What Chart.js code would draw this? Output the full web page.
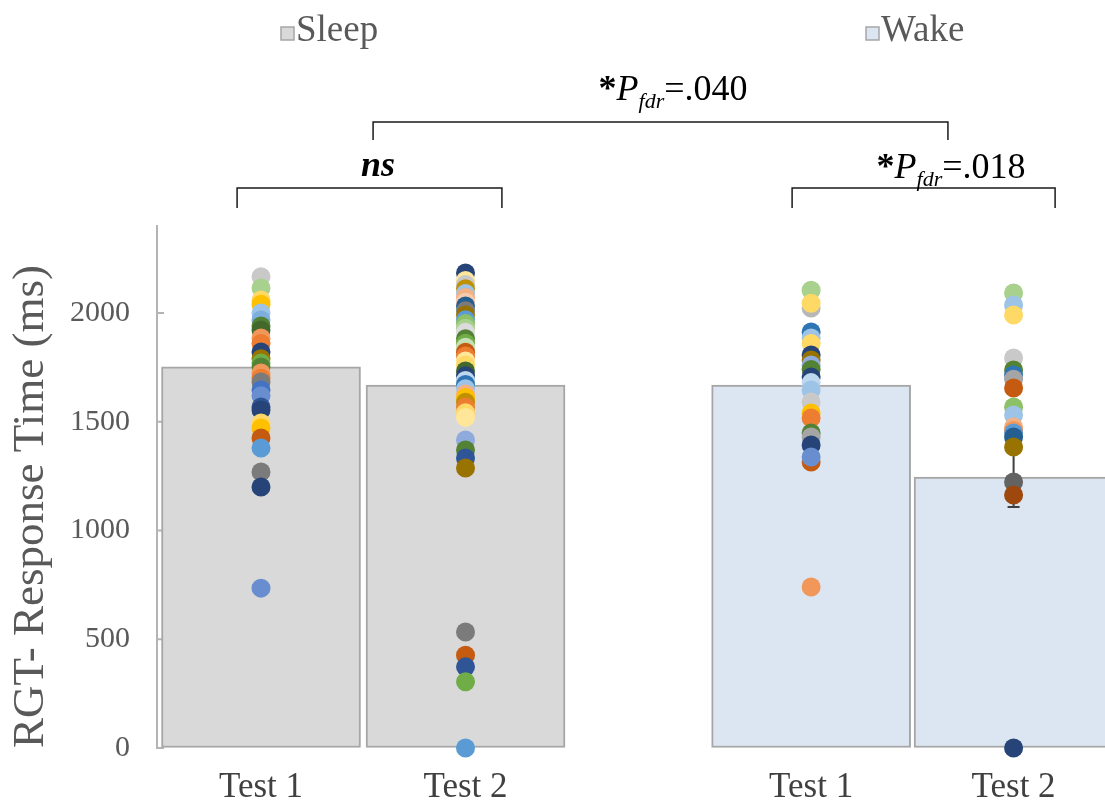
<!DOCTYPE html>
<html>
<head>
<meta charset="utf-8">
<script src="https://cdn.jsdelivr.net/npm/chart.js@4.4.1/dist/chart.umd.min.js"></script>
<style>
  html, body { margin: 0; padding: 0; background: #fff; }
  #wrap { width: 1105px; height: 806px; }
</style>
</head>
<body>
<div id="wrap"><canvas id="grafico" width="1105" height="806"></canvas></div>
<script>
// ---- Datos ----
var grupos = ['Sleep', 'Wake'];
var categorias = ['Test 1', 'Test 2', 'Test 1', 'Test 2'];
var medias = [1752, 1669, 1669, 1246];
var errores = [95, 120, 85, 138];
var ticksY = [0, 500, 1000, 1500, 2000];

var sleepTest1 = [2167, 2115, 2060, 2040, 2000, 1968, 1940, 1922, 1885, 1860, 1821, 1790, 1770, 1752, 1724, 1700, 1683, 1646, 1620, 1568, 1554, 1494, 1471, 1425, 1379, 1269, 1200, 735];
var sleepTest2 = [2184, 2150, 2131, 2112, 2090, 2071, 2049, 2032, 2010, 1991, 1969, 1952, 1930, 1911, 1882, 1861, 1843, 1820, 1802, 1779, 1761, 1733, 1712, 1690, 1671, 1652, 1628, 1611, 1590, 1568, 1541, 1520, 1416, 1370, 1333, 1287, 533, 427, 373, 305, 0];
var wakeTest1 = [2105, 2023, 2045, 1913, 1885, 1860, 1807, 1784, 1761, 1740, 1706, 1680, 1646, 1591, 1540, 1517, 1448, 1430, 1393, 1315, 1338, 740];
var wakeTest2 = [2092, 2037, 1991, 1793, 1738, 1715, 1695, 1655, 1568, 1531, 1476, 1460, 1448, 1430, 1384, 1223, 1163, 0];

// comparaciones: tramo en unidades del eje x, altura en ms, texto
var comparaciones = [
  { desde: 1.548, hasta: 4.359, alto: 2878, pata: 2795, centro: 3.015, base: 2979, valor: '=.040' },
  { desde: 0.883, hasta: 2.178, alto: 2575, pata: 2483, centro: 1.572, base: 2630, valor: null },
  { desde: 3.597, hasta: 4.883, alto: 2575, pata: 2483, centro: 4.374, base: 2621, valor: '=.018' }
];

// ---- Estilo / disposición ----
var posX = [1, 2, 3.69, 4.68];
var rellenos = ['#d9d9d9', '#d9d9d9', '#dce6f2', '#dce6f2'];
var coloresS1 = ['#C9C9C9', '#A9D18E', '#FFD966', '#FFC000', '#9DC3E6', '#7CAFDD', '#548235', '#43682B', '#F1975A', '#ED7D31', '#264478', '#997300', '#70AD47', '#548235', '#F1975A', '#ED7D31', '#7B7B7B', '#4472C4', '#698ED0', '#2F5597', '#264478', '#FFD966', '#FFC000', '#C55A11', '#5B9BD5', '#7B7B7B', '#264478', '#698ED0'];
var coloresS2 = ['#264478', '#FFE699', '#C9C9C9', '#BF9000', '#9DC3E6', '#F4B183', '#F8CBAD', '#255E91', '#7B7B7B', '#997300', '#5B9BD5', '#8CC168', '#A9D18E', '#DBDBDB', '#548235', '#70AD47', '#C5E0B4', '#C55A11', '#ED7D31', '#FFE699', '#FFD966', '#43682B', '#264478', '#BDD7EE', '#2E75B6', '#9DC3E6', '#F4B183', '#FFC000', '#BF9000', '#ED7D31', '#FFD966', '#FFE699', '#8FAADC', '#548235', '#2F5597', '#997300', '#7B7B7B', '#C55A11', '#2F5597', '#70AD47', '#5B9BD5'];
var coloresW1 = ['#A9D18E', '#B7B7B7', '#FFD966', '#2E75B6', '#9DC3E6', '#FFD966', '#264478', '#997300', '#8FAADC', '#548235', '#264478', '#BDD7EE', '#9DC3E6', '#C9C9C9', '#FFC000', '#ED7D31', '#548235', '#A5A5A5', '#264478', '#C55A11', '#698ED0', '#F1975A'];
var coloresW2 = ['#A9D18E', '#9DC3E6', '#FFD966', '#C9C9C9', '#548235', '#2E75B6', '#A5A5A5', '#C55A11', '#8CC168', '#9DC3E6', '#F4B183', '#F1975A', '#5B9BD5', '#255E91', '#997300', '#636363', '#9E480E', '#264478'];
var SERIF = '"Liberation Serif", "Times New Roman", serif';

(function () {
  var columnas = [sleepTest1, sleepTest2, wakeTest1, wakeTest2];
  var colores = [coloresS1, coloresS2, coloresW1, coloresW2];

  var puntos = columnas.map(function (vals, k) {
    return {
      type: 'scatter',
      data: vals.map(function (v) { return { x: posX[k], y: v }; }),
      pointRadius: 9.5,
      pointBackgroundColor: colores[k],
      pointBorderWidth: 0,
      clip: false,
      order: 1
    };
  });

  // Texto tipo "*P_fdr=.040"
  function textoP(ctx, cx, y, valor) {
    var partes = [
      { t: '*', f: 'bold 36px ' + SERIF, dy: 0 },
      { t: 'P', f: 'italic 36px ' + SERIF, dy: 0 },
      { t: 'fdr', f: 'italic 22px ' + SERIF, dy: 8 },
      { t: valor, f: '36px ' + SERIF, dy: 0 }
    ];
    var ancho = 0;
    partes.forEach(function (p) { ctx.font = p.f; p.w = ctx.measureText(p.t).width; ancho += p.w; });
    var x = cx - ancho / 2;
    ctx.textAlign = 'left';
    partes.forEach(function (p) { ctx.font = p.f; ctx.fillText(p.t, x, y + p.dy); x += p.w; });
  }

  var extras = {
    id: 'extras',
    beforeDatasetsDraw: function (chart) {
      // marcas de eje hacia adentro
      var ctx = chart.ctx, sy = chart.scales.y, x0 = chart.chartArea.left;
      ctx.save();
      ctx.strokeStyle = '#b4b4b4';
      ctx.lineWidth = 2;
      ticksY.forEach(function (v) {
        var y = sy.getPixelForValue(v);
        ctx.beginPath(); ctx.moveTo(x0, y); ctx.lineTo(x0 + 7, y); ctx.stroke();
      });
      ctx.restore();
    },
    afterDatasetDraw: function (chart, args) {
      if (args.index !== 0) return;
      // barras de error
      var ctx = chart.ctx, sx = chart.scales.x, sy = chart.scales.y;
      ctx.save();
      ctx.strokeStyle = '#404040';
      ctx.lineWidth = 2;
      medias.forEach(function (m, i) {
        var x = sx.getPixelForValue(posX[i]);
        var y1 = sy.getPixelForValue(m + errores[i]);
        var y2 = sy.getPixelForValue(m - errores[i]);
        ctx.beginPath();
        ctx.moveTo(x, y1); ctx.lineTo(x, y2);
        ctx.moveTo(x - 6, y1); ctx.lineTo(x + 6, y1);
        ctx.moveTo(x - 6, y2); ctx.lineTo(x + 6, y2);
        ctx.stroke();
      });
      ctx.restore();
    },
    afterDraw: function (chart) {
      var ctx = chart.ctx, sx = chart.scales.x, sy = chart.scales.y;
      ctx.save();
      // corchetes y etiquetas
      ctx.strokeStyle = '#1a1a1a';
      ctx.fillStyle = '#000';
      ctx.lineWidth = 1.5;
      ctx.textBaseline = 'alphabetic';
      comparaciones.forEach(function (c) {
        var xa = sx.getPixelForValue(c.desde), xb = sx.getPixelForValue(c.hasta);
        var ya = sy.getPixelForValue(c.alto), yb = sy.getPixelForValue(c.pata);
        ctx.beginPath();
        ctx.moveTo(xa, yb); ctx.lineTo(xa, ya); ctx.lineTo(xb, ya); ctx.lineTo(xb, yb);
        ctx.stroke();
        var cx = sx.getPixelForValue(c.centro), by = sy.getPixelForValue(c.base);
        if (c.valor) {
          textoP(ctx, cx, by, c.valor);
        } else {
          ctx.font = 'italic bold 36px ' + SERIF;
          ctx.textAlign = 'center';
          ctx.fillText('ns', cx, by);
        }
      });
      // leyenda
      var leyenda = [{ x: 281, fill: rellenos[0] }, { x: 866, fill: rellenos[2] }];
      ctx.font = '37px ' + SERIF;
      ctx.textAlign = 'left';
      leyenda.forEach(function (l, i) {
        ctx.fillStyle = l.fill;
        ctx.fillRect(l.x, 27, 13, 13);
        ctx.strokeStyle = '#a6a6a6';
        ctx.lineWidth = 1.5;
        ctx.strokeRect(l.x, 27, 13, 13);
        ctx.fillStyle = '#595959';
        ctx.fillText(grupos[i], l.x + 15, 41);
      });
      ctx.restore();
    }
  };

  new Chart(document.getElementById('grafico').getContext('2d'), {
    type: 'bar',
    data: {
      datasets: [{
        type: 'bar',
        data: medias.map(function (v, i) { return { x: posX[i], y: v }; }),
        backgroundColor: rellenos,
        borderColor: '#a6a6a6',
        borderWidth: 2,
        borderSkipped: false,
        barThickness: 199,
        order: 2
      }].concat(puntos)
    },
    options: {
      responsive: false,
      devicePixelRatio: 1,
      animation: false,
      events: [],
      layout: { autoPadding: false, padding: { top: 226, right: 0, bottom: 0, left: 0 } },
      plugins: { legend: { display: false }, tooltip: { enabled: false } },
      scales: {
        x: {
          type: 'linear',
          offset: false,
          min: 0.4914,
          max: 5.127,
          grid: { display: false, drawTicks: false },
          border: { display: false },
          afterBuildTicks: function (s) { s.ticks = posX.map(function (v) { return { value: v }; }); },
          afterFit: function (s) { s.height = 58; s.paddingLeft = 0; s.paddingRight = 0; },
          ticks: {
            autoSkip: false,
            maxRotation: 0,
            padding: 22,
            color: '#404040',
            font: { family: SERIF, size: 35, lineHeight: 1 },
            callback: function (v, i) { return categorias[i]; }
          }
        },
        y: {
          min: 0,
          max: 2400,
          grid: { drawOnChartArea: false, drawTicks: false },
          border: { color: '#b4b4b4', width: 2 },
          afterBuildTicks: function (s) { s.ticks = ticksY.map(function (v) { return { value: v }; }); },
          afterFit: function (s) { s.width = 157; },
          ticks: {
            padding: 27,
            color: '#595959',
            font: { family: SERIF, size: 30 },
            callback: function (v) { return String(v); }
          },
          title: {
            display: true,
            text: 'RGT- Response Time (ms)',
            align: 'start',
            color: '#595959',
            font: { family: SERIF, size: 45 },
            padding: { top: 4, bottom: 0 }
          }
        }
      }
    },
    plugins: [extras]
  });
})();
</script>
</body>
</html>
